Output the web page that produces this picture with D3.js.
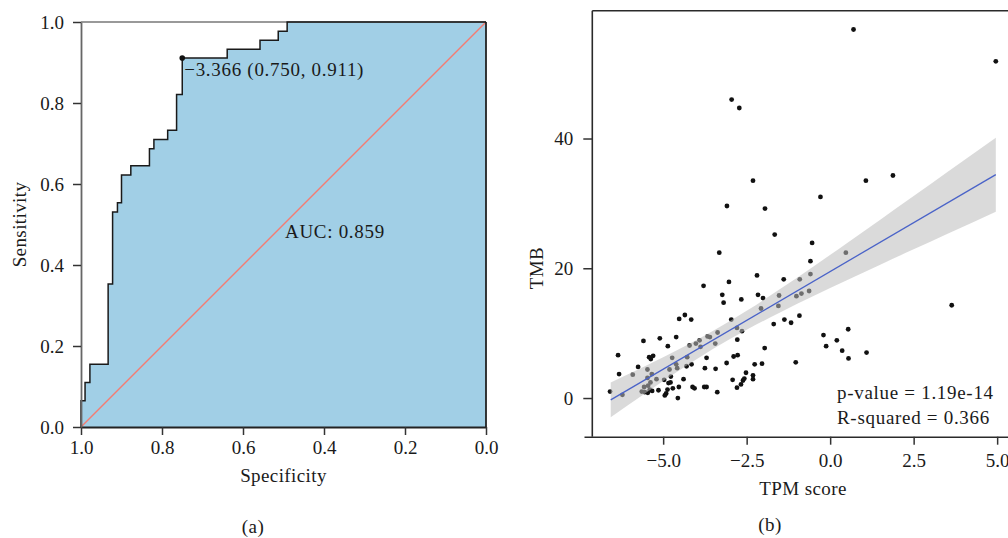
<!DOCTYPE html>
<html>
<head>
<meta charset="utf-8">
<script src="https://cdn.jsdelivr.net/npm/d3@7"></script>
<style>
  body { margin: 0; background: #fff; }
  text { font-family: "Liberation Serif", "Times New Roman", serif; fill: #1a1a1a; }
  .tick text { font-size: 19px; }
  .tick line { stroke: #333; }
  .note { font-size: 19px; letter-spacing: 0.7px; }
  .title { font-size: 19px; letter-spacing: 0.4px; }
</style>
</head>
<body>
<div id="chart"></div>
<script>
// ROC curve (a): corner points, step after
var rocSpec = [1, 1, 0.990, 0.978, 0.933, 0.922, 0.910, 0.900, 0.877, 0.831, 0.820, 0.786, 0.764, 0.750, 0.639, 0.558, 0.513, 0.491, 0];
var rocSens = [0, 0.065, 0.110, 0.155, 0.353, 0.531, 0.554, 0.622, 0.645, 0.687, 0.710, 0.733, 0.821, 0.911, 0.933, 0.955, 0.977, 1, 1];
var bestSpec = 0.750, bestSens = 0.911;
var rocTicks = [1.0, 0.8, 0.6, 0.4, 0.2, 0.0];

// scatter (b)
var tpm = [-2.95, -2.72, -2.31, -3.09, -1.95, 0.70, 4.96, -0.29, 1.07, 1.88,
  -0.54, -0.59, 0.47, -0.59, -1.39, -0.91, -1.01, -0.86, -0.63, 3.64,
  -1.37, -1.17, -0.92, -0.20, -0.12, 0.20, 0.54, 0.36, 0.55, 1.09,
  -1.03, -1.66, -3.32, -2.19, -3.03, -3.23, -3.19, -2.16, -2.01, -2.66,
  -1.53, -1.55, -2.07, -2.96, -1.69, -2.79, -2.64, -3.37, -3.67, -3.60,
  -3.44, -2.78, -1.96, -3.70, -2.89, -2.77, -3.75, -3.43, -3.10, -2.26,
  -2.04, -2.52, -2.57, -2.61, -2.31, -2.31, -2.92, -2.67, -2.79, -3.70,
  -3.38, -4.35, -4.52, -4.16, -5.59, -5.10, -4.61, -4.86, -6.35, -5.42,
  -5.30, -5.37, -6.32, -5.75, -5.91, -5.47, -5.34, -5.47, -5.38, -5.45,
  -5.57, -5.64, -5.55, -5.40, -5.46, -5.33, -6.59, -6.22, -5.20, -4.97,
  -4.81, -4.73, -4.61, -4.58, -4.21, -4.02, -3.91, -4.28, -4.15, -4.30,
  -3.88, -4.77, -4.78, -4.84, -4.39, -4.53, -4.71, -4.87, -4.91, -4.95,
  -5.14, -4.56, -4.12, -4.06, -3.77, -3.79];
var tmb = [46.0, 44.7, 33.5, 29.6, 29.2, 56.8, 51.9, 31.0, 33.5, 34.3,
  23.9, 21.1, 22.4, 19.1, 18.3, 18.3, 15.7, 16.1, 16.5, 14.3,
  12.1, 11.6, 12.7, 9.7, 8.0, 8.9, 10.6, 7.3, 6.1, 7.0,
  5.5, 25.2, 22.4, 18.9, 17.9, 15.9, 14.7, 15.9, 15.4, 15.2,
  15.8, 14.2, 13.8, 12.1, 11.4, 10.8, 10.3, 10.1, 9.5, 9.4,
  8.4, 9.0, 7.7, 6.2, 6.4, 6.6, 4.6, 4.5, 5.4, 5.2,
  5.3, 3.9, 3.0, 2.7, 3.5, 2.9, 2.8, 2.1, 1.6, 1.7,
  0.9, 12.8, 12.2, 12.1, 8.8, 9.2, 9.4, 8.0, 6.6, 6.3,
  6.5, 6.0, 3.7, 4.8, 3.6, 4.4, 3.7, 3.1, 2.4, 1.9,
  1.7, 1.0, 0.9, 1.3, 0.8, 1.1, 1.0, 0.5, 2.9, 2.8,
  4.4, 6.2, 5.2, 4.6, 8.1, 8.4, 8.9, 6.3, 5.2, 4.9,
  7.9, 3.3, 2.4, 2.3, 2.9, 1.7, 1.5, 1.3, 0.7, 0.4,
  1.2, 0.0, 1.7, 1.5, 1.7, 17.3];

// fitted line and its confidence band
var fitX = [-6.57, 4.96];
var fitY = [-0.28, 34.43];
var bandX = [-6.57, -5.5, -4.5, -3.5, -2.5, -1.5, -0.5, 0.5, 1.5, 2.5, 3.5, 4.96];
var bandLo = [-2.95, 0.86, 4.31, 7.58, 10.52, 13.19, 15.71, 18.14, 20.55, 22.93, 25.29, 28.73];
var bandHi = [2.39, 5.02, 7.59, 10.36, 13.44, 16.79, 20.29, 23.86, 27.49, 31.13, 34.79, 40.13];
var tpmTicks = [-5.0, -2.5, 0.0, 2.5, 5.0];
var tmbTicks = [0, 20, 40];

var svg = d3.select("#chart").append("svg")
  .attr("width", 1008)
  .attr("height", 538);

// ---------- panel (a) ----------
var xA = d3.scaleLinear().domain([1, 0]).range([81, 486]);
var yA = d3.scaleLinear().domain([0, 1]).range([427, 22]);
var roc = rocSpec.map(function(s, i) { return { spec: s, sens: rocSens[i] }; });

var gA = svg.append("g");

gA.append("path")
  .datum(roc)
  .attr("fill", "#a1cfe6")
  .attr("d", d3.area().curve(d3.curveStepAfter)
    .x(d => xA(d.spec)).y0(yA(0)).y1(d => yA(d.sens)));

// chance line
gA.append("line")
  .attr("x1", xA(1)).attr("y1", yA(0))
  .attr("x2", xA(0)).attr("y2", yA(1))
  .attr("stroke", "#f47c72").attr("stroke-width", 1.4);

// frame
gA.append("line").attr("x1", xA(1)).attr("x2", xA(0)).attr("y1", yA(1)).attr("y2", yA(1))
  .attr("stroke", "#777").attr("stroke-width", 1.5);
gA.append("line").attr("x1", xA(0)).attr("x2", xA(0)).attr("y1", yA(1)).attr("y2", yA(0))
  .attr("stroke", "#222").attr("stroke-width", 1.8);

gA.append("path")
  .datum(roc)
  .attr("fill", "none")
  .attr("stroke", "#1a1a1a")
  .attr("stroke-width", 1.5)
  .attr("d", d3.line().curve(d3.curveStepAfter).x(d => xA(d.spec)).y(d => yA(d.sens)));

var axA = gA.append("g")
  .attr("transform", "translate(0," + yA(0) + ")")
  .call(d3.axisBottom(xA).tickValues(rocTicks).tickFormat(d3.format(".1f")).tickSize(8).tickPadding(6).tickSizeOuter(0));
axA.select(".domain").attr("stroke", "#222").attr("stroke-width", 1.8);
axA.selectAll(".tick line").attr("stroke-width", 1.5);

var ayA = gA.append("g")
  .attr("transform", "translate(" + xA(1) + ",0)")
  .call(d3.axisLeft(yA).tickValues(rocTicks).tickFormat(d3.format(".1f")).tickSize(8).tickPadding(9).tickSizeOuter(0));
ayA.select(".domain").attr("stroke", "#666").attr("stroke-width", 1.8);
ayA.selectAll(".tick line").attr("stroke-width", 1.5);
svg.selectAll(".tick text").attr("fill", "#1a1a1a");

gA.append("circle")
  .attr("cx", xA(bestSpec)).attr("cy", yA(bestSens)).attr("r", 2.8)
  .attr("fill", "#111");

gA.append("text")
  .attr("class", "note")
  .attr("x", xA(bestSpec) + 2).attr("y", yA(bestSens) + 18)
  .text("\u22123.366 (0.750, 0.911)");

gA.append("text")
  .attr("class", "note")
  .attr("x", 285).attr("y", 238)
  .text("AUC: 0.859");

gA.append("text")
  .attr("class", "title")
  .attr("transform", "translate(26," + (yA(0.5)) + ") rotate(-90)")
  .attr("text-anchor", "middle")
  .text("Sensitivity");

gA.append("text")
  .attr("class", "title")
  .attr("x", xA(0.5)).attr("y", 482)
  .attr("text-anchor", "middle")
  .text("Specificity");

gA.append("text")
  .attr("class", "title")
  .attr("x", 253).attr("y", 533)
  .attr("text-anchor", "middle")
  .text("(a)");

// ---------- panel (b) ----------
var xB = d3.scaleLinear().domain([-7.37, 5.325]).range([584, 1008]);
var yB = d3.scaleLinear().domain([-5.96, 59.7]).range([436.7, 10.7]);
var gB = svg.append("g");

var pts = tpm.map(function(v, i) { return { x: v, y: tmb[i] }; });
gB.append("g").selectAll("circle")
  .data(pts)
  .enter()
  .append("circle")
  .attr("cx", d => xB(d.x))
  .attr("cy", d => yB(d.y))
  .attr("r", 2.4)
  .attr("fill", "#111");

var band = bandX.map(function(v, i) { return { x: v, lo: bandLo[i], hi: bandHi[i] }; });
gB.append("path")
  .datum(band)
  .attr("fill", "#bbbbbb")
  .attr("fill-opacity", 0.55)
  .attr("d", d3.area().curve(d3.curveMonotoneX)
    .x(d => xB(d.x)).y0(d => yB(d.lo)).y1(d => yB(d.hi)));

gB.append("line")
  .attr("x1", xB(fitX[0])).attr("y1", yB(fitY[0]))
  .attr("x2", xB(fitX[1])).attr("y2", yB(fitY[1]))
  .attr("stroke", "#4a63c8").attr("stroke-width", 1.3);

// frame lines
gB.append("line").attr("x1", 592.3).attr("x2", 1008).attr("y1", yB(59.7)).attr("y2", yB(59.7))
  .attr("stroke", "#2a2a2a").attr("stroke-width", 1.6);
gB.append("line").attr("x1", 592.3).attr("x2", 592.3).attr("y1", yB(59.7)).attr("y2", yB(-5.96))
  .attr("stroke", "#2a2a2a").attr("stroke-width", 1.6);

var axB = gB.append("g")
  .attr("transform", "translate(0," + yB(-5.96) + ")")
  .call(d3.axisBottom(xB).tickValues(tpmTicks)
    .tickFormat(d => d < 0 ? "\u2212" + d3.format(".1f")(-d) : d3.format(".1f")(d))
    .tickSize(8).tickPadding(9).tickSizeOuter(0));
axB.select(".domain").attr("stroke", "#2a2a2a").attr("stroke-width", 1.6);
axB.selectAll(".tick line").attr("stroke-width", 1.5);

var ayB = gB.append("g")
  .attr("transform", "translate(592.3,0)")
  .call(d3.axisLeft(yB).tickValues(tmbTicks).tickSize(9).tickPadding(10).tickSizeOuter(0));
ayB.select(".domain").remove();
ayB.selectAll(".tick line").attr("stroke-width", 1.5);
svg.selectAll(".tick text").attr("fill", "#1a1a1a");

gB.append("text")
  .attr("class", "note")
  .attr("x", 837).attr("y", 399)
  .text("p-value = 1.19e-14");
gB.append("text")
  .attr("class", "note")
  .attr("x", 837).attr("y", 424)
  .text("R-squared = 0.366");

gB.append("text")
  .attr("class", "title")
  .attr("transform", "translate(543,268) rotate(-90)")
  .attr("text-anchor", "middle")
  .text("TMB");

gB.append("text")
  .attr("class", "title")
  .attr("x", 803).attr("y", 495)
  .attr("text-anchor", "middle")
  .text("TPM score");

gB.append("text")
  .attr("class", "title")
  .attr("x", 770).attr("y", 531)
  .attr("text-anchor", "middle")
  .text("(b)");
</script>
</body>
</html>
